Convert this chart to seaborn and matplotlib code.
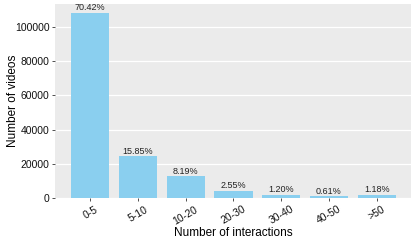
import matplotlib
matplotlib.use("Agg")
import matplotlib.pyplot as plt
import seaborn as sns
import pandas as pd

categories = ["0-5", "5-10", "10-20", "20-30", "30-40", "40-50", ">50"]
counts = [108200, 24354, 12584, 3918, 1844, 937, 1813]
pct_labels = ["70.42%", "15.85%", "8.19%", "2.55%", "1.20%", "0.61%", "1.18%"]

df = pd.DataFrame({"interactions": categories, "videos": counts})

sns.set_theme(style="darkgrid", rc={
    "axes.facecolor": "#EBEBEB",
    "grid.color": "white",
    "grid.linewidth": 0.9,
    "axes.edgecolor": "#EBEBEB",
})
plt.rcParams["font.family"] = ["Liberation Sans", "DejaVu Sans"]

fig = plt.figure(figsize=(4.15, 2.4), dpi=100)
ax = fig.add_axes([0.1325, 0.175, 0.858, 0.808])

sns.barplot(data=df, x="interactions", y="videos", color="#8ACFEF",
            saturation=1, width=0.8, ax=ax, zorder=3, linewidth=0)

for i, (c, t) in enumerate(zip(counts, pct_labels)):
    ax.text(i, c + 500, t, ha="center", va="bottom", fontsize=6.5,
            color="#222222", zorder=4)

ax.set_xlim(-0.74, 6.72)
ax.set_ylim(0, 113500)
ax.set_yticks([0, 20000, 40000, 60000, 80000, 100000])
ax.set_yticklabels(["0", "20000", "40000", "60000", "80000", "100000"])
ax.grid(axis="x", visible=False)
ax.grid(axis="y", visible=True, zorder=0)
for s in ax.spines.values():
    s.set_visible(False)

ax.tick_params(axis="both", length=2.5, width=0.6, color="#333333",
               labelsize=7.5, labelcolor="#111111", pad=1.5, bottom=True, left=True)
ax.tick_params(axis="x", labelsize=7.5, pad=2)
plt.setp(ax.get_xticklabels(), rotation=30, ha="center", va="top")

ax.set_xlabel("Number of interactions", fontsize=8.5, color="black", va="center")
ax.xaxis.set_label_coords(0.5, -0.18)
ax.set_ylabel("Number of videos", fontsize=8.5, color="black", va="center")
ax.yaxis.set_label_coords(-0.118, 0.5)

fig.savefig("out.png", dpi=100)
